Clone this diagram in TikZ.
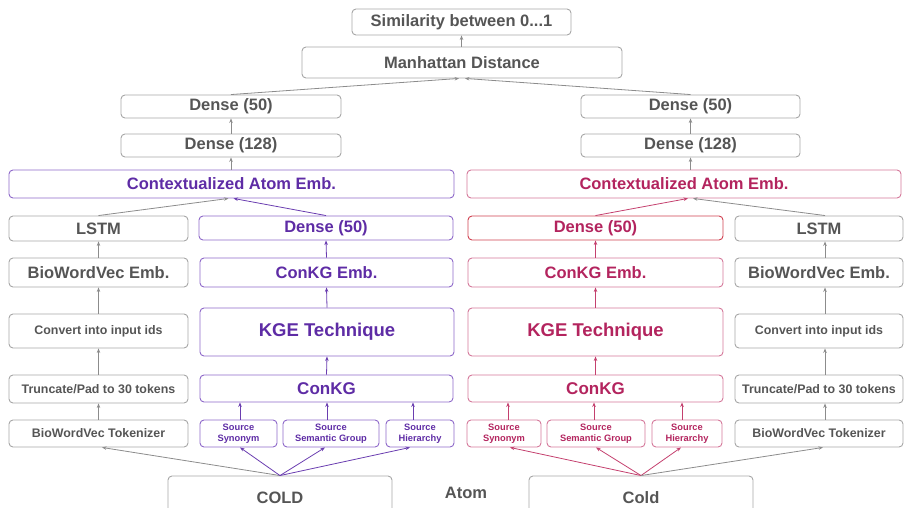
\documentclass[tikz,border=0pt]{standalone}
\usepackage{fontspec}
\setmainfont{Liberation Sans}
\usepackage{tikz}
\usetikzlibrary{arrows.meta,backgrounds}
\definecolor{gtext}{HTML}{555555}
\definecolor{gline}{HTML}{A6A6A6}
\definecolor{garr}{HTML}{8C8C8C}
\definecolor{ptext}{HTML}{5E2CA5}
\definecolor{pline}{HTML}{8D68C9}
\definecolor{parr}{HTML}{6A3DB0}
\definecolor{rtext}{HTML}{B3245E}
\definecolor{rline}{HTML}{D4789A}
\definecolor{rdense}{HTML}{D04050}
\definecolor{rarr}{HTML}{C4406E}

\begin{document}
\begin{tikzpicture}[x=1pt,y=-1pt,
		gbox/.style={draw=gline,text=gtext,rounded corners=4pt,line width=0.9pt,inner sep=0pt,
			font=\bfseries\fontsize{16.5}{18}\selectfont},
		pbox/.style={gbox,draw=pline,text=ptext},
		rbox/.style={gbox,draw=rline,text=rtext},
		smalltext/.style={font=\bfseries\fontsize{12.4}{14}\selectfont},
		tinytext/.style={font=\bfseries\fontsize{9.3}{11}\selectfont,align=center},
		tip/.style={-{Stealth[length=4.5pt,width=3.5pt]},line width=0.8pt},
		garrow/.style={tip,draw=garr},
		parrow/.style={tip,draw=parr},
		rarrow/.style={tip,draw=rarr}]
		\useasboundingbox (0,0) rectangle (905,508);
		\node[gbox,minimum width=219,minimum height=26] (sim) at (461.5,22) {Similarity between 0...1};
		\node[gbox,minimum width=320,minimum height=31] (man) at (462,62.5) {Manhattan Distance};
		\node[gbox,minimum width=220,minimum height=23] (d50L) at (231,106.5) {Dense (50)};
		\node[gbox,minimum width=220,minimum height=23] (d128L) at (231,145.5) {Dense (128)};
		\node[gbox,minimum width=219,minimum height=23] (d50R) at (690.5,106.5) {Dense (50)};
		\node[gbox,minimum width=219,minimum height=23] (d128R) at (690.5,145.5) {Dense (128)};
		\node[pbox,minimum width=445,minimum height=28] (ctxL) at (231.5,184) {Contextualized Atom Emb.};
		\node[rbox,minimum width=434,minimum height=28] (ctxR) at (684,184) {Contextualized Atom Emb.};
		% left side
		\node[gbox,minimum width=179,minimum height=25] (lstmL) at (98.5,228.5) {LSTM};
		\node[gbox,minimum width=179,minimum height=29] (bioL) at (98.5,272.5) {BioWordVec Emb.};
		\node[gbox,smalltext,minimum width=179,minimum height=34] (convL) at (98.5,331) {Convert into input ids};
		\node[gbox,smalltext,minimum width=179,minimum height=28] (truncL) at (98.5,389) {Truncate/Pad to 30 tokens};
		\node[gbox,smalltext,minimum width=179,minimum height=27] (tokL) at (98.5,433.5) {BioWordVec Tokenizer};
		\node[pbox,minimum width=254,minimum height=24] (denseL) at (326,228) {Dense (50)};
		\node[pbox,minimum width=253,minimum height=29] (embL) at (326.5,272.5) {ConKG Emb.};
		\node[pbox,font=\bfseries\fontsize{18.5}{20}\selectfont,minimum width=254,minimum height=48] (kgeL) at (327,332) {KGE Technique};
		\node[pbox,font=\bfseries\fontsize{17}{19}\selectfont,minimum width=253,minimum height=27] (conL) at (326.5,388.5) {ConKG};
		\node[pbox,tinytext,minimum width=77,minimum height=27] (synL) at (238.5,433.5) {Source\\Synonym};
		\node[pbox,tinytext,minimum width=96,minimum height=27] (semL) at (331,433.5) {Source\\Semantic Group};
		\node[pbox,tinytext,minimum width=68,minimum height=27] (hieL) at (420,433.5) {Source\\Hierarchy};
		\node[gbox,minimum width=224,minimum height=44] (coldL) at (280,498) {COLD};
		\node[text=gtext,font=\bfseries\fontsize{16.5}{18}\selectfont] (atom) at (466,493) {Atom};
		% right side
		\node[rbox,draw=rdense,minimum width=255,minimum height=24] (denseR) at (595.5,228) {Dense (50)};
		\node[rbox,minimum width=255,minimum height=29] (embR) at (595.5,272.5) {ConKG Emb.};
		\node[rbox,font=\bfseries\fontsize{18.5}{20}\selectfont,minimum width=255,minimum height=48] (kgeR) at (595.5,332) {KGE Technique};
		\node[rbox,font=\bfseries\fontsize{17}{19}\selectfont,minimum width=255,minimum height=27] (conR) at (595.5,388.5) {ConKG};
		\node[rbox,tinytext,minimum width=74,minimum height=27] (synR) at (504,433.5) {Source\\Synonym};
		\node[rbox,tinytext,minimum width=98,minimum height=27] (semR) at (596,433.5) {Source\\Semantic Group};
		\node[rbox,tinytext,minimum width=70,minimum height=27] (hieR) at (687,433.5) {Source\\Hierarchy};
		\node[gbox,minimum width=168,minimum height=25] (lstmR) at (819,228.5) {LSTM};
		\node[gbox,minimum width=168,minimum height=29] (bioR) at (819,272.5) {BioWordVec Emb.};
		\node[gbox,smalltext,minimum width=168,minimum height=34] (convR) at (819,331) {Convert into input ids};
		\node[gbox,smalltext,minimum width=168,minimum height=28] (truncR) at (819,389) {Truncate/Pad to 30 tokens};
		\node[gbox,smalltext,minimum width=168,minimum height=27] (tokR) at (819,433.5) {BioWordVec Tokenizer};
		\node[gbox,minimum width=224,minimum height=44] (coldR) at (641,498) {Cold};
		% top arrows
		\draw[garrow] (man.north -| sim.south) -- (sim.south);
		\draw[garrow] (d50L.north) -- ([xshift=-3]man.south);
		\draw[garrow] (d50R.north) -- ([xshift=3]man.south);
		\draw[garrow] (d128L.north) -- (d50L.south);
		\draw[garrow] (d128R.north) -- (d50R.south);
		\draw[garrow] (ctxL.north -| d128L.south) -- (d128L.south);
		\draw[garrow] (ctxR.north -| d128R.south) -- (d128R.south);
		% left arrows
		\draw[garrow] (lstmL.north) -- ([xshift=-3]ctxL.south);
		\draw[parrow] (denseL.north) -- ([xshift=2]ctxL.south);
		\draw[garrow] (bioL.north) -- (lstmL.south);
		\draw[garrow] (convL.north) -- (bioL.south);
		\draw[garrow] (truncL.north) -- (convL.south);
		\draw[garrow] (tokL.north) -- (truncL.south);
		\draw[parrow] (embL.north) -- (denseL.south);
		\draw[parrow] (kgeL.north) -- (embL.south);
		\draw[parrow] (conL.north) -- (kgeL.south);
		\draw[parrow] ([xshift=1.5]synL.north) -- ([xshift=1.5]synL.north |- conL.south);
		\draw[parrow] ([xshift=-4]semL.north) -- ([xshift=-4]semL.north |- conL.south);
		\draw[parrow] ([xshift=-7]hieL.north) -- ([xshift=-7]hieL.north |- conL.south);
		\draw[garrow] (coldL.north) -- ([xshift=3.5]tokL.south);
		\draw[parrow] (coldL.north) -- ([xshift=1.5]synL.south);
		\draw[parrow] (coldL.north) -- ([xshift=-6]semL.south);
		\draw[parrow] (coldL.north) -- ([xshift=-10]hieL.south);
		% right arrows
		\draw[rarrow] (denseR.north) -- ([xshift=4]ctxR.south);
		\draw[garrow] ([xshift=6]lstmR.north) -- ([xshift=9]ctxR.south);
		\draw[rarrow] (embR.north) -- (denseR.south);
		\draw[rarrow] (kgeR.north) -- (embR.south);
		\draw[rarrow] (conR.north) -- (kgeR.south);
		\draw[rarrow] ([xshift=4]synR.north) -- ([xshift=4]synR.north |- conR.south);
		\draw[rarrow] ([xshift=-2]semR.north) -- ([xshift=-2]semR.north |- conR.south);
		\draw[rarrow] ([xshift=-5]hieR.north) -- ([xshift=-5]hieR.north |- conR.south);
		\draw[garrow] ([xshift=6]bioR.north) -- ([xshift=6]lstmR.south);
		\draw[garrow] ([xshift=6]convR.north) -- ([xshift=6]bioR.south);
		\draw[garrow] ([xshift=6]truncR.north) -- ([xshift=6]convR.south);
		\draw[garrow] ([xshift=6]tokR.north) -- ([xshift=6]truncR.south);
		\draw[rarrow] (coldR.north) -- ([xshift=6]synR.south);
		\draw[rarrow] (coldR.north) -- (semR.south);
		\draw[rarrow] (coldR.north) -- ([xshift=-6]hieR.south);
		\draw[garrow] (coldR.north) -- ([xshift=4]tokR.south);
	\end{tikzpicture}
\end{document}
